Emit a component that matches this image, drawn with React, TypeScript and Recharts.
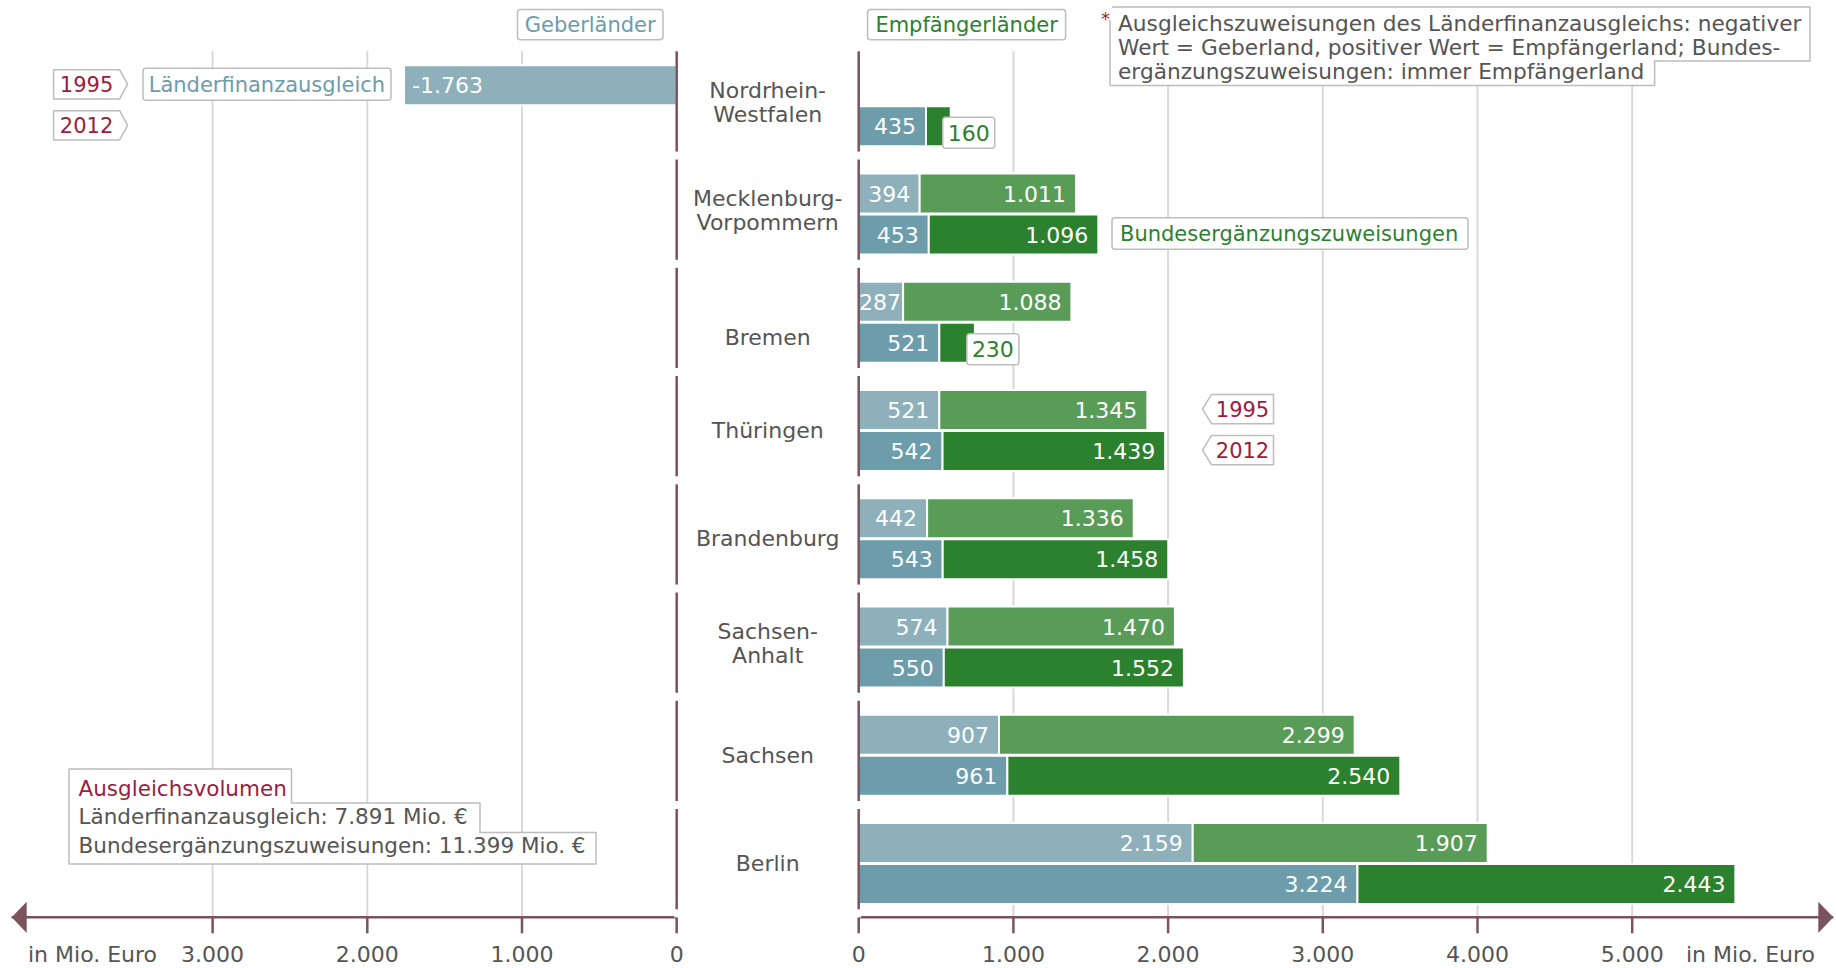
import React from "react";
import { BarChart, Bar, XAxis, YAxis, CartesianGrid, LabelList } from "recharts";

// Länder, top to bottom
const states = [
  "Nordrhein-Westfalen",
  "Mecklenburg-Vorpommern",
  "Bremen",
  "Thüringen",
  "Brandenburg",
  "Sachsen-Anhalt",
  "Sachsen",
  "Berlin",
];

// Länderfinanzausgleich in Mio. Euro (negativ = Geberland)
const lfa1995 = [-1763, 394, 287, 521, 442, 574, 907, 2159];
const lfa2012 = [435, 453, 521, 542, 543, 550, 961, 3224];
// Bundesergänzungszuweisungen in Mio. Euro
const bez1995 = [null, 1011, 1088, 1345, 1336, 1470, 2299, 1907];
const bez2012 = [160, 1096, 230, 1439, 1458, 1552, 2540, 2443];

const leftTicks = [-3000, -2000, -1000, 0];
const rightTicks = [0, 1000, 2000, 3000, 4000, 5000];
const leftGrid = [-3000, -2000, -1000];
const rightGrid = [1000, 2000, 3000, 4000, 5000];

const C_LFA95 = "#8db0bb";
const C_LFA12 = "#6d9cab";
const C_BEZ95 = "#599c57";
const C_BEZ12 = "#2c812e";
const AXIS = "#7a535f";
const GRID = "#d9d9d9";
const TEXT = "#555555";
const RED = "#9b1c40";
const BOX = "#bdbdbd";
const FONT = 22;
const FONT_S = 21;

const W = 1836;
const H = 968;
const PLOT_TOP = 51.3;
const PLOT_BOTTOM = 917.3;
const ROW_H = (PLOT_BOTTOM - PLOT_TOP) / states.length;
const X_AXIS_H = 40;
const LEFT_W = 700;
const RIGHT_X = 640;
const ZERO_L = 676.7;
const ZERO_R = 858.7;
const PX = 0.1547; // px per Mio. Euro
const Y_AXIS_W = 150;
const BAR = 40;
const GAP = 1;

const pos = (v: number | null) => (v != null && v > 0 ? v : null);
const neg = (v: number | null) => (v != null && v < 0 ? v : null);

const leftData = states.map((name, i) => ({
  name,
  lfa95: neg(lfa1995[i]),
  lfa12: neg(lfa2012[i]),
}));
const rightData = states.map((name, i) => ({
  name,
  lfa95: pos(lfa1995[i]),
  bez95: bez1995[i],
  lfa12: pos(lfa2012[i]),
  bez12: bez2012[i],
}));

const fmt = (v: number) =>
  (v < 0 ? "-" : "") + String(Math.abs(Math.round(v))).replace(/\B(?=(\d{3})+(?!\d))/g, ".");
const textW = (s: string) =>
  s.split("").reduce((w, ch) => w + (ch === "." ? 7 : ch === "-" ? 7.9 : 14), 0);

// bar geometry inside a row (for annotations next to the bars)
const barOffset = Math.floor((ROW_H - 2 * BAR - GAP) / 2);
const barCenter = (row: number, slot: number) =>
  PLOT_TOP + row * ROW_H + barOffset + slot * (BAR + GAP) + BAR / 2;

function ValueLabel(props: any) {
  const vb = props.viewBox || {};
  const x = props.x ?? vb.x;
  const y = props.y ?? vb.y;
  const width = props.width ?? vb.width;
  const height = props.height ?? vb.height;
  const value = props.value;
  if (value == null || value === 0 || x == null) return null;
  const x0 = Math.min(x, x + width);
  const x1 = Math.max(x, x + width);
  const w = x1 - x0;
  const s = fmt(value);
  const tw = textW(s);
  const base = y + height / 2 + 8;
  if (value < 0) {
    return (
      <text x={x0 + 8} y={base} fill="#fff" fontSize={FONT}>
        {s}
      </text>
    );
  }
  if (w >= tw - 1) {
    const off = Math.max(2, Math.min(10, (w - tw) / 2));
    return (
      <text x={x1 - off} y={base} fill="#fff" fontSize={FONT} textAnchor="end">
        {s}
      </text>
    );
  }
  // too small: white callout box at the end of the bar
  const bx = x1 - 8;
  const by = y + 11;
  return (
    <g>
      <rect x={bx} y={by} width={tw + 10} height={31} rx={3} fill="#fff" stroke={BOX} strokeWidth={1.5} />
      <text x={bx + 5} y={by + 15.5 + 8} fill={props.color || TEXT} fontSize={FONT}>
        {s}
      </text>
    </g>
  );
}

const LABEL_NUDGE: Record<string, number> = { Bremen: 15 };

function RowTick(props: any) {
  const { x, y, payload, showLabel } = props;
  const top = y - ROW_H / 2;
  const bottom = y + ROW_H / 2;
  const name: string = payload.value;
  const lines = name.split(/(?<=-)/);
  const cy = y + (lines.length > 1 ? -3.5 : 0) + (LABEL_NUDGE[name] || 0);
  return (
    <g>
      <line x1={x} x2={x} y1={bottom - 8} y2={bottom} stroke="#fff" strokeWidth={5} />
      <line x1={x} x2={x} y1={top} y2={bottom - 8} stroke={AXIS} strokeWidth={2.5} />
      {showLabel &&
        lines.map((ln, k) => (
          <text
            key={k}
            x={x - 91}
            y={cy + (k - (lines.length - 1) / 2) * 24 + 8}
            textAnchor="middle"
            fill={TEXT}
            fontSize={FONT}
          >
            {ln}
          </text>
        ))}
    </g>
  );
}

const Box = ({ x, y, w, h }: { x: number; y: number; w: number; h: number }) => (
  <rect x={x} y={y} width={w} height={h} rx={3} fill="#fff" stroke={BOX} strokeWidth={1.5} />
);

function TagRight({ x, cy, label }: { x: number; cy: number; label: string }) {
  const h = 29.3;
  const w = 66;
  const y = cy - h / 2;
  return (
    <g>
      <path
        d={`M${x},${y} H${x + w} L${x + w + 8},${cy} L${x + w},${y + h} H${x} Z`}
        fill="#fff"
        stroke={BOX}
        strokeWidth={1.5}
        strokeLinejoin="round"
      />
      <text x={x + w / 2} y={cy + 7.5} textAnchor="middle" fill={RED} fontSize={FONT_S}>
        {label}
      </text>
    </g>
  );
}

function TagLeft({ x, cy, label }: { x: number; cy: number; label: string }) {
  const h = 29.3;
  const w = 62;
  const y = cy - h / 2;
  return (
    <g>
      <path
        d={`M${x},${cy} L${x + 9},${y} H${x + 9 + w} V${y + h} H${x + 9} Z`}
        fill="#fff"
        stroke={BOX}
        strokeWidth={1.5}
        strokeLinejoin="round"
      />
      <text x={x + 9 + w / 2} y={cy + 7.5} textAnchor="middle" fill={RED} fontSize={FONT_S}>
        {label}
      </text>
    </g>
  );
}

function Overlay() {
  return (
    <svg
      width={W}
      height={H}
      style={{ position: "absolute", left: 0, top: 0, pointerEvents: "none" }}
    >
      {/* arrow heads */}
      <path d={`M11.7,${PLOT_BOTTOM} L26.7,901.7 L26.7,932.9 Z`} fill={AXIS} />
      <path d={`M1833.3,${PLOT_BOTTOM} L1818.3,901.7 L1818.3,932.9 Z`} fill={AXIS} />
      <text x={28} y={962} fill={TEXT} fontSize={FONT}>
        in Mio. Euro
      </text>
      <text x={1686} y={962} fill={TEXT} fontSize={FONT}>
        in Mio. Euro
      </text>

      {/* panel headers */}
      <Box x={517.5} y={9.4} w={145.5} h={30.4} />
      <text x={590.2} y={32} textAnchor="middle" fill={C_LFA12} fontSize={FONT_S}>
        Geberländer
      </text>
      <Box x={867.6} y={9.4} w={198} h={30.4} />
      <text x={966.6} y={32} textAnchor="middle" fill={C_BEZ12} fontSize={FONT_S}>
        Empfängerländer
      </text>

      {/* footnote */}
      <path
        d="M1110,7 H1810 V61 H1654.6 V85.5 H1110 Z"
        fill="#fff"
        stroke={BOX}
        strokeWidth={1.5}
        strokeLinejoin="round"
      />
      <rect x={1099} y={4} width={13} height={16} fill="#fff" />
      <text x={1101} y={25} fill={RED} fontSize={18}>
        *
      </text>
      <text x={1118} y={31} fill={TEXT} fontSize={21.7}>
        Ausgleichszuweisungen des Länderfinanzausgleichs: negativer
      </text>
      <text x={1118} y={55} fill={TEXT} fontSize={21.7}>
        Wert = Geberland, positiver Wert = Empfängerland; Bundes-
      </text>
      <text x={1118} y={79} fill={TEXT} fontSize={21.7}>
        ergänzungszuweisungen: immer Empfängerland
      </text>

      {/* series labels */}
      <Box x={143} y={barCenter(0, 0) - 16} w={248} h={32} />
      <text x={148.7} y={barCenter(0, 0) + 7.5} fill={C_LFA12} fontSize={FONT_S}>
        Länderfinanzausgleich
      </text>
      <Box x={1112} y={barCenter(1, 1) - 15.7} w={356} h={31.4} />
      <text x={1120} y={barCenter(1, 1) + 7.5} fill={C_BEZ12} fontSize={FONT_S}>
        Bundesergänzungszuweisungen
      </text>

      {/* year tags */}
      <TagRight x={53.6} cy={barCenter(0, 0)} label="1995" />
      <TagRight x={53.6} cy={barCenter(0, 1)} label="2012" />
      <TagLeft x={1202.5} cy={barCenter(3, 0)} label="1995" />
      <TagLeft x={1202.5} cy={barCenter(3, 1)} label="2012" />

      {/* volume box */}
      <path
        d="M69,769 H291.5 V803 H480 V832.5 H596 V864 H69 Z"
        fill="#fff"
        stroke={BOX}
        strokeWidth={1.5}
        strokeLinejoin="round"
      />
      <text x={78.5} y={795.5} fill={RED} fontSize={21.5}>
        Ausgleichsvolumen
      </text>
      <text x={78.5} y={823.5} fill={TEXT} fontSize={21.5}>
        Länderfinanzausgleich: 7.891 Mio. €
      </text>
      <text x={78.5} y={853} fill={TEXT} fontSize={21.5}>
        Bundesergänzungszuweisungen: 11.399 Mio. €
      </text>
    </svg>
  );
}

const axisProps = {
  axisLine: { stroke: AXIS, strokeWidth: 2.5 },
  tickLine: { stroke: AXIS, strokeWidth: 2.5 },
  tickSize: 16,
  tickMargin: 13,
  height: X_AXIS_H,
  tick: { fill: TEXT, fontSize: FONT },
  allowDataOverflow: true,
};

export default function App() {
  const leftMin = -4300;
  const rightMax = 6300;
  return (
    <div
      style={{
        position: "absolute",
        left: 0,
        top: 0,
        width: W,
        height: H,
        background: "#fff",
        overflow: "hidden",
        fontFamily: '"DejaVu Sans", Verdana, sans-serif',
      }}
    >
      <div style={{ position: "absolute", left: 0, top: 0 }}>
        <BarChart
          width={LEFT_W}
          height={H}
          data={leftData}
          layout="vertical"
          barGap={GAP}
          barSize={BAR}
          margin={{
            top: PLOT_TOP,
            bottom: H - PLOT_BOTTOM - X_AXIS_H,
            left: ZERO_L + leftMin * PX,
            right: LEFT_W - ZERO_L - 1,
          }}
        >
          <CartesianGrid horizontal={false} verticalValues={leftGrid} stroke={GRID} strokeWidth={2} />
          <XAxis
            type="number"
            domain={[leftMin, 0]}
            ticks={leftTicks}
            tickFormatter={(v: number) => fmt(Math.abs(v))}
            {...axisProps}
          />
          <YAxis
            type="category"
            dataKey="name"
            orientation="right"
            width={1}
            interval={0}
            axisLine={false}
            tickLine={false}
            tickSize={0}
            tickMargin={0}
            tick={(p: any) => <RowTick {...p} showLabel={false} />}
          />
          <Bar dataKey="lfa95" fill={C_LFA95} stroke="#fff" strokeWidth={2} barSize={BAR} isAnimationActive={false}>
            <LabelList dataKey="lfa95" content={<ValueLabel />} />
          </Bar>
          <Bar dataKey="lfa12" fill={C_LFA12} stroke="#fff" strokeWidth={2} barSize={BAR} isAnimationActive={false}>
            <LabelList dataKey="lfa12" content={<ValueLabel />} />
          </Bar>
        </BarChart>
      </div>

      <div style={{ position: "absolute", left: RIGHT_X, top: 0 }}>
        <BarChart
          width={W - RIGHT_X}
          height={H}
          data={rightData}
          layout="vertical"
          barGap={GAP}
          barSize={BAR}
          margin={{
            top: PLOT_TOP,
            bottom: H - PLOT_BOTTOM - X_AXIS_H,
            left: ZERO_R - RIGHT_X - Y_AXIS_W,
            right: W - (ZERO_R + rightMax * PX),
          }}
        >
          <CartesianGrid horizontal={false} verticalValues={rightGrid} stroke={GRID} strokeWidth={2} />
          <XAxis
            type="number"
            domain={[0, rightMax]}
            ticks={rightTicks}
            tickFormatter={(v: number) => fmt(v)}
            {...axisProps}
          />
          <YAxis
            type="category"
            dataKey="name"
            width={Y_AXIS_W}
            interval={0}
            axisLine={false}
            tickLine={false}
            tickSize={0}
            tickMargin={0}
            tick={(p: any) => <RowTick {...p} showLabel />}
          />
          <Bar dataKey="lfa95" stackId="y1995" fill={C_LFA95} stroke="#fff" strokeWidth={2} barSize={BAR} isAnimationActive={false}>
            <LabelList dataKey="lfa95" content={<ValueLabel color={C_LFA12} />} />
          </Bar>
          <Bar dataKey="bez95" stackId="y1995" fill={C_BEZ95} stroke="#fff" strokeWidth={2} barSize={BAR} isAnimationActive={false}>
            <LabelList dataKey="bez95" content={<ValueLabel color={C_BEZ12} />} />
          </Bar>
          <Bar dataKey="lfa12" stackId="y2012" fill={C_LFA12} stroke="#fff" strokeWidth={2} barSize={BAR} isAnimationActive={false}>
            <LabelList dataKey="lfa12" content={<ValueLabel color={C_LFA12} />} />
          </Bar>
          <Bar dataKey="bez12" stackId="y2012" fill={C_BEZ12} stroke="#fff" strokeWidth={2} barSize={BAR} isAnimationActive={false}>
            <LabelList dataKey="bez12" content={<ValueLabel color={C_BEZ12} />} />
          </Bar>
        </BarChart>
      </div>

      <Overlay />
    </div>
  );
}
